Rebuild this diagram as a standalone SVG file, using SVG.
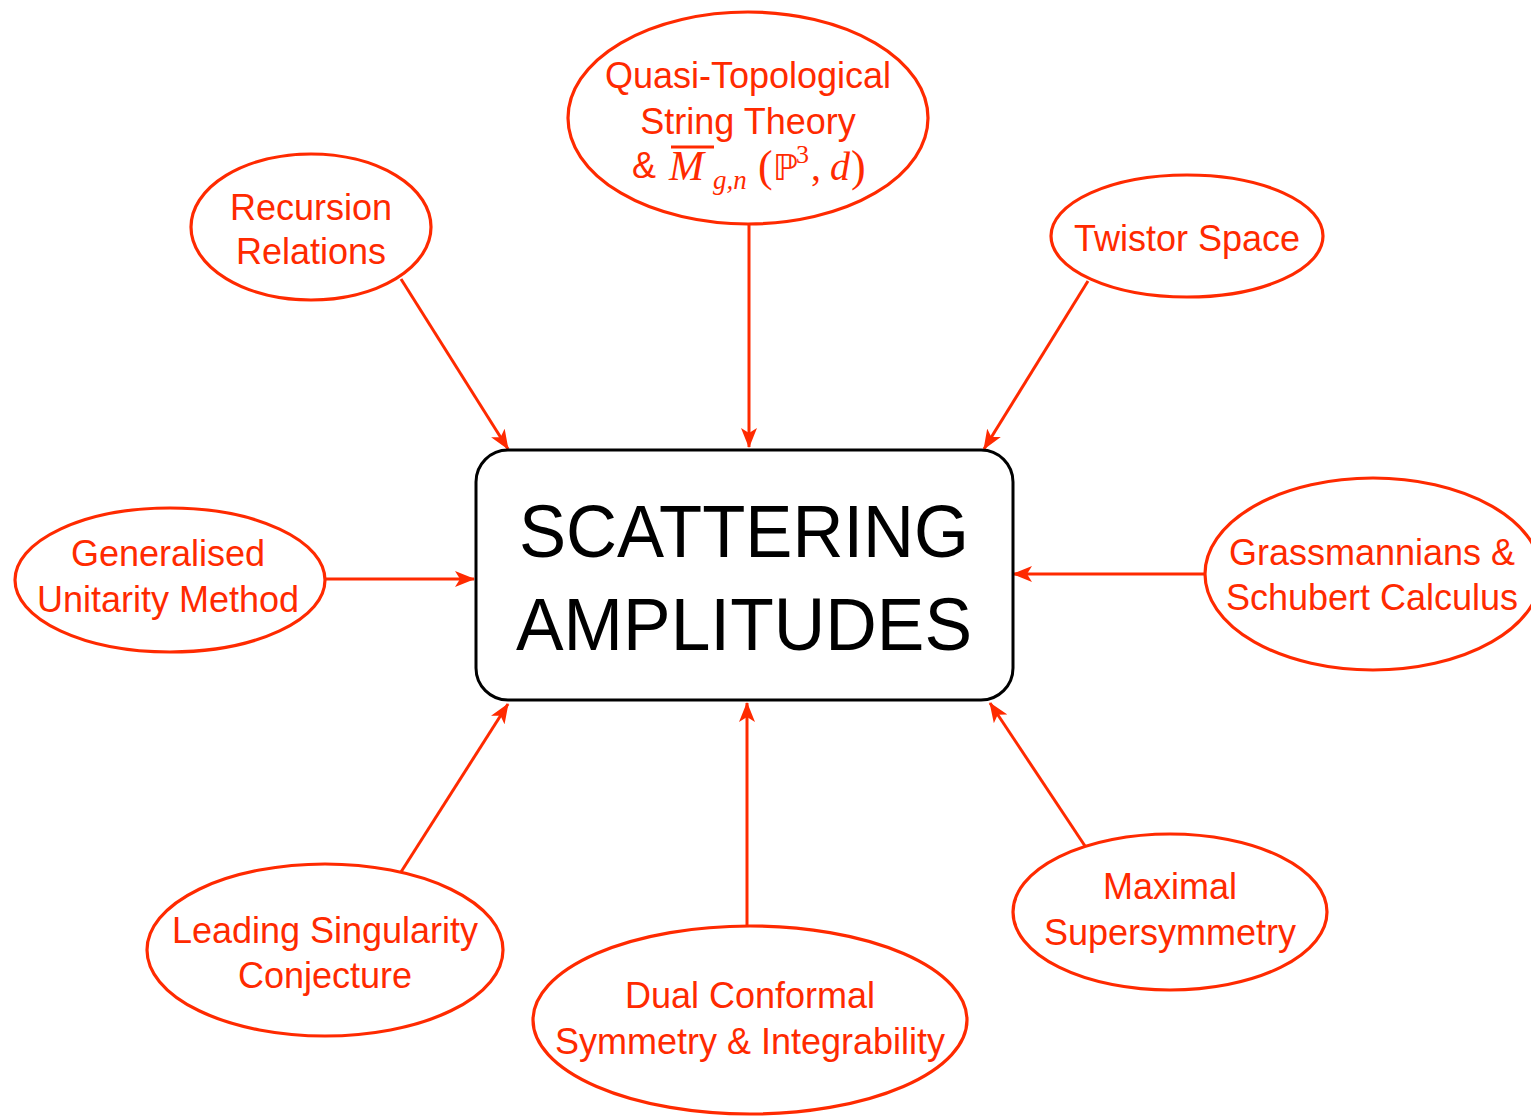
<svg xmlns="http://www.w3.org/2000/svg" width="1531" height="1116" viewBox="0 0 1531 1116">
  <style>
    .topic { fill: none; stroke: #ff2a00; stroke-width: 3.2; }
    .label { fill: #ff2a00; font-family: "Liberation Sans", Arial, sans-serif; font-size: 36px; text-anchor: middle; }
    .math { fill: #ff2a00; font-family: "Liberation Serif", "DejaVu Serif", serif; font-size: 40px; }
    .edge { stroke: #ff2a00; stroke-width: 3; fill: none; marker-end: url(#head); }
    .hub { fill: #ffffff; stroke: #000000; stroke-width: 3; }
    .hubtext { fill: #000000; font-family: "Liberation Sans", Arial, sans-serif; font-size: 74px; text-anchor: middle; }
  </style>
  <defs>
    <marker id="head" viewBox="0 0 20 16" refX="19" refY="8" markerWidth="20" markerHeight="16" markerUnits="userSpaceOnUse" orient="auto">
      <path d="M0,0 L20,8 L0,16 L5,8 Z" fill="#ff2a00"/>
    </marker>
  </defs>

  <rect width="1531" height="1116" fill="#ffffff"/>

  <!-- connectors: each topic points at the central box -->
  <g id="connectors">
    <line class="edge" x1="401" y1="279" x2="508" y2="449"/>
    <line class="edge" x1="749" y1="225" x2="749" y2="447"/>
    <line class="edge" x1="1088" y1="281" x2="984" y2="449"/>
    <line class="edge" x1="326" y1="579" x2="474" y2="579"/>
    <line class="edge" x1="1204" y1="574" x2="1013" y2="574"/>
    <line class="edge" x1="401" y1="872" x2="508" y2="704"/>
    <line class="edge" x1="747" y1="925" x2="747" y2="703"/>
    <line class="edge" x1="1085" y1="846" x2="990" y2="703"/>
  </g>

  <g id="scattering-amplitudes">
    <rect class="hub" x="476" y="450" width="537" height="250" rx="32" ry="32"/>
    <text class="hubtext" x="744" y="557" textLength="450" lengthAdjust="spacingAndGlyphs">SCATTERING</text>
    <text class="hubtext" x="744" y="650" textLength="456" lengthAdjust="spacingAndGlyphs">AMPLITUDES</text>
  </g>

  <g id="recursion-relations">
    <ellipse class="topic" cx="311" cy="227" rx="120" ry="73"/>
    <text class="label" x="311" y="220">Recursion</text>
    <text class="label" x="311" y="264">Relations</text>
  </g>

  <g id="quasi-topological-string-theory">
    <ellipse class="topic" cx="748" cy="118" rx="180" ry="106"/>
    <text class="label" x="748" y="88">Quasi-Topological</text>
    <text class="label" x="748" y="134">String Theory</text>
    <text class="label" x="644" y="178">&amp;</text>
    <!-- closure bar over the moduli space symbol -->
    <line x1="671" y1="147" x2="714" y2="147" stroke="#ff2a00" stroke-width="3"/>
    <text class="math" y="180"><tspan x="669" font-style="italic" font-size="42">M</tspan><tspan x="713" y="189" font-size="27" font-style="italic">g,n</tspan><tspan x="758" y="181" font-size="44">(</tspan><tspan x="773" y="180" font-family="DejaVu Sans, sans-serif" font-size="36">ℙ</tspan><tspan x="796" y="163" font-size="26">3</tspan><tspan x="811" y="180">,</tspan><tspan x="830" font-style="italic">d</tspan><tspan x="851" y="181" font-size="44">)</tspan></text>
  </g>

  <g id="twistor-space">
    <ellipse class="topic" cx="1187" cy="236" rx="136" ry="61"/>
    <text class="label" x="1187" y="251">Twistor Space</text>
  </g>

  <g id="generalised-unitarity-method">
    <ellipse class="topic" cx="170" cy="580" rx="155" ry="72"/>
    <text class="label" x="168" y="566">Generalised</text>
    <text class="label" x="168" y="612">Unitarity Method</text>
  </g>

  <g id="grassmannians-schubert-calculus">
    <ellipse class="topic" cx="1373" cy="574" rx="168" ry="96"/>
    <text class="label" x="1372" y="565">Grassmannians &amp;</text>
    <text class="label" x="1372" y="610">Schubert Calculus</text>
  </g>

  <g id="leading-singularity-conjecture">
    <ellipse class="topic" cx="325" cy="950" rx="178" ry="86"/>
    <text class="label" x="325" y="943">Leading Singularity</text>
    <text class="label" x="325" y="988">Conjecture</text>
  </g>

  <g id="dual-conformal-symmetry">
    <ellipse class="topic" cx="750" cy="1020" rx="217" ry="94"/>
    <text class="label" x="750" y="1008">Dual Conformal</text>
    <text class="label" x="750" y="1054">Symmetry &amp; Integrability</text>
  </g>

  <g id="maximal-supersymmetry">
    <ellipse class="topic" cx="1170" cy="912" rx="157" ry="78"/>
    <text class="label" x="1170" y="899">Maximal</text>
    <text class="label" x="1170" y="945">Supersymmetry</text>
  </g>
</svg>
